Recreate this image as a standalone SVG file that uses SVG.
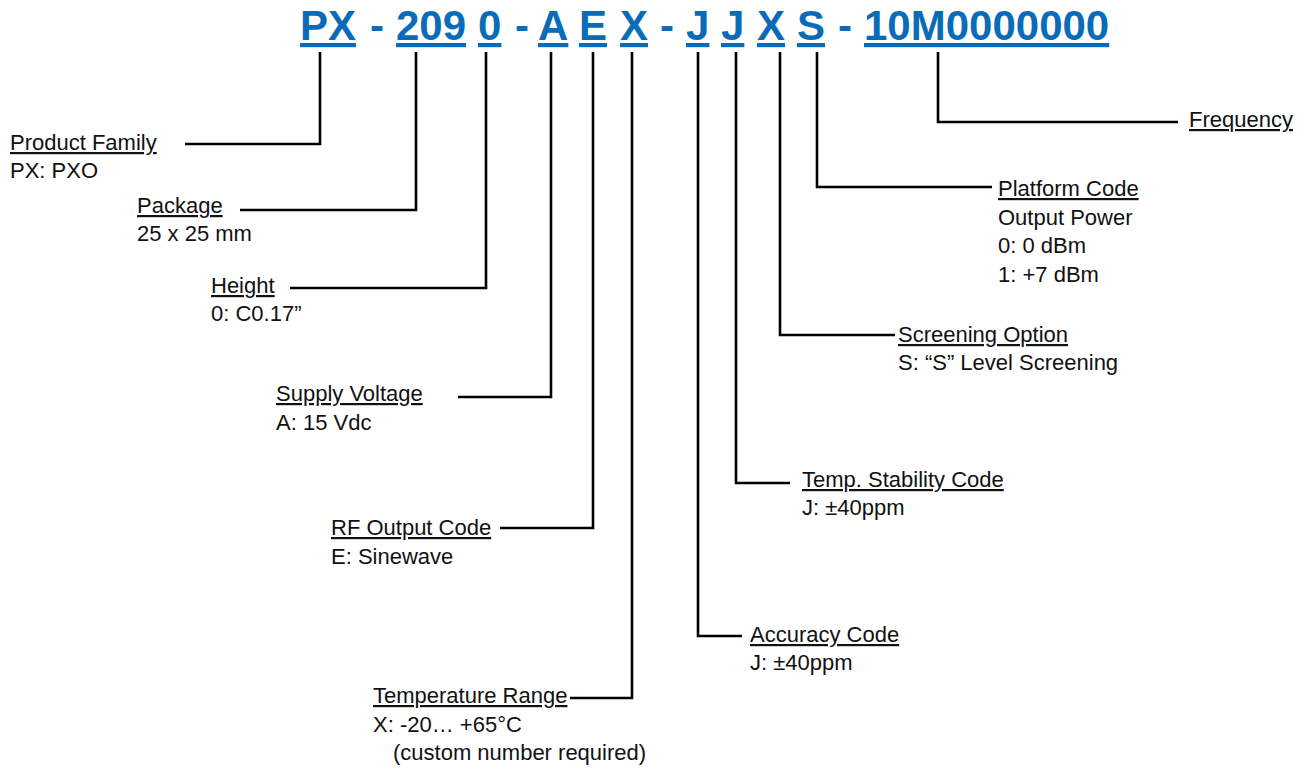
<svg xmlns="http://www.w3.org/2000/svg" width="1306" height="769" viewBox="0 0 1306 769">
<style>
.hd{font-family:"Liberation Sans",Arial,sans-serif;font-weight:bold;font-size:42px;fill:#0A6CB8}
.u{text-decoration:underline}
.lb{font-family:"Liberation Sans",Arial,sans-serif;font-size:22px;fill:#111}
.t{text-decoration:underline}
.c{fill:none;stroke:#000;stroke-width:2.6;stroke-linejoin:miter;stroke-linecap:butt}
</style>
<rect width="1306" height="769" fill="#fff"/>
<g id="header">
<text class="hd u" x="300" y="40">PX</text>
<text class="hd" x="370" y="40">-</text>
<text class="hd u" x="396" y="40">209</text>
<text class="hd u" x="478" y="40">0</text>
<text class="hd" x="515" y="40">-</text>
<text class="hd u" x="538" y="40">A</text>
<text class="hd u" x="579" y="40">E</text>
<text class="hd u" x="620" y="40">X</text>
<text class="hd" x="660" y="40">-</text>
<text class="hd u" x="686" y="40">J</text>
<text class="hd u" x="721" y="40">J</text>
<text class="hd u" x="757" y="40">X</text>
<text class="hd u" x="797" y="40">S</text>
<text class="hd" x="838" y="40">-</text>
<text class="hd u" x="864" y="40">10M0000000</text>
</g>
<g id="connectors">
<path class="c" d="M320,52 V144 H185"/>
<path class="c" d="M416,52 V210 H240"/>
<path class="c" d="M486,52 V288 H290"/>
<path class="c" d="M551,52 V397 H458"/>
<path class="c" d="M593,52 V528 H500"/>
<path class="c" d="M632,52 V698 H570"/>
<path class="c" d="M698,52 V636 H742"/>
<path class="c" d="M736,52 V483 H790"/>
<path class="c" d="M780,52 V335 H895"/>
<path class="c" d="M817,52 V187 H992"/>
<path class="c" d="M938,52 V122 H1178"/>
</g>
<g id="product-family">
<text class="lb t" x="10" y="150">Product Family</text>
<text class="lb" x="10" y="178">PX: PXO</text>
</g>
<g id="package">
<text class="lb t" x="137" y="213">Package</text>
<text class="lb" x="137" y="241">25 x 25 mm</text>
</g>
<g id="height">
<text class="lb t" x="211" y="293">Height</text>
<text class="lb" x="211" y="321">0: C0.17”</text>
</g>
<g id="supply-voltage">
<text class="lb t" x="276" y="401">Supply Voltage</text>
<text class="lb" x="276" y="430">A: 15 Vdc</text>
</g>
<g id="rf-output">
<text class="lb t" x="331" y="535">RF Output Code</text>
<text class="lb" x="331" y="564">E: Sinewave</text>
</g>
<g id="temperature-range">
<text class="lb t" x="373" y="703">Temperature Range</text>
<text class="lb" x="373" y="732">X: -20… +65°C</text>
<text class="lb" x="393" y="760">(custom number required)</text>
</g>
<g id="accuracy-code">
<text class="lb t" x="750" y="642">Accuracy Code</text>
<text class="lb" x="750" y="670">J: ±40ppm</text>
</g>
<g id="temp-stability">
<text class="lb t" x="802" y="487">Temp. Stability Code</text>
<text class="lb" x="802" y="515">J: ±40ppm</text>
</g>
<g id="screening">
<text class="lb t" x="898" y="342">Screening Option</text>
<text class="lb" x="898" y="370">S: “S” Level Screening</text>
</g>
<g id="platform-code">
<text class="lb t" x="998" y="196">Platform Code</text>
<text class="lb" x="998" y="225">Output Power</text>
<text class="lb" x="998" y="253">0: 0 dBm</text>
<text class="lb" x="998" y="282">1: +7 dBm</text>
</g>
<g id="frequency">
<text class="lb t" x="1189" y="127">Frequency</text>
</g>
</svg>
